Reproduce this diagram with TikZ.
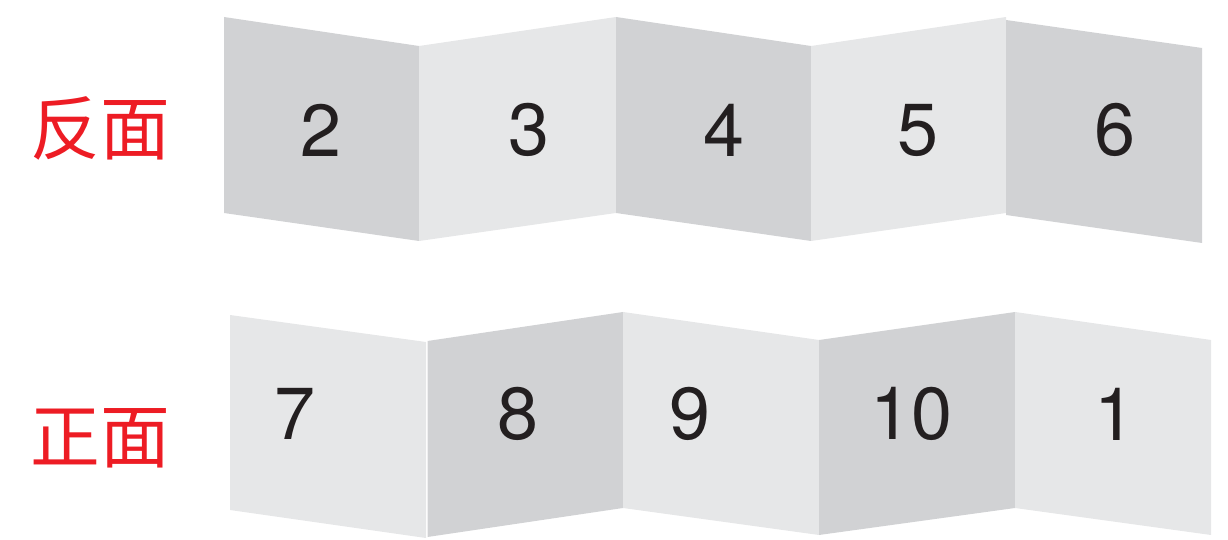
\documentclass[tikz,border=0pt]{standalone}
\usepackage{fontspec}
\setmainfont{TeX Gyre Heros}
\newfontfamily\cjk{Noto Sans CJK SC}
\definecolor{darkp}{HTML}{D1D2D4}
\definecolor{lightp}{HTML}{E6E7E8}
\definecolor{labred}{HTML}{ED1C24}
\definecolor{digitc}{HTML}{231F20}
\begin{document}
\begin{tikzpicture}[x=1bp,y=-1bp,
  num/.style={text=digitc,font=\fontsize{74}{74}\selectfont,inner sep=0pt,anchor=center},
  lab/.style={text=labred,font=\cjk\fontsize{70}{70}\selectfont,inner sep=0pt,anchor=base}]
\useasboundingbox (0,0) rectangle (1228,540);
% top row (reverse side)
\fill[darkp]  (224,17) -- (419,46) -- (419,241) -- (224,213) -- cycle;
\fill[lightp] (419,46) -- (616,17) -- (616,213) -- (419,241) -- cycle;
\fill[darkp]  (616,17) -- (811,46) -- (811,241) -- (616,213) -- cycle;
\fill[lightp] (811,46) -- (1006,17) -- (1006,213) -- (811,241) -- cycle;
\fill[darkp]  (1006,20) -- (1202,48) -- (1202,243) -- (1006,215) -- cycle;
% bottom row (front side)
\fill[lightp] (230,315) -- (426,342) -- (426,538) -- (230,510) -- cycle;
\fill[darkp]  (427.5,341) -- (623,312) -- (623,508) -- (427.5,537) -- cycle;
\fill[lightp] (623,312) -- (819,340) -- (819,535) -- (623,508) -- cycle;
\fill[darkp]  (819,340) -- (1015,312) -- (1015,508) -- (819,535) -- cycle;
\fill[lightp] (1015,312) -- (1211,340) -- (1211,535) -- (1015,508) -- cycle;
% labels
\node[lab] (back) at (100,155) {反面};
\node[lab] (front) at (100,462) {正面};
% numbers
\node[num] (n2) at (321,130) {2};
\node[num] (n3) at (529,130) {3};
\node[num] (n4) at (724,130) {4};
\node[num] (n5) at (918,130) {5};
\node[num] (n6) at (1115,130) {6};
\node[num] (n7) at (295,414) {7};
\node[num] (n8) at (518,414) {8};
\node[num] (n9) at (690,414) {9};
\node[num] (n10) at (911,414) {10};
\node[num] (n1) at (1115,414) {1};
\end{tikzpicture}
\end{document}
